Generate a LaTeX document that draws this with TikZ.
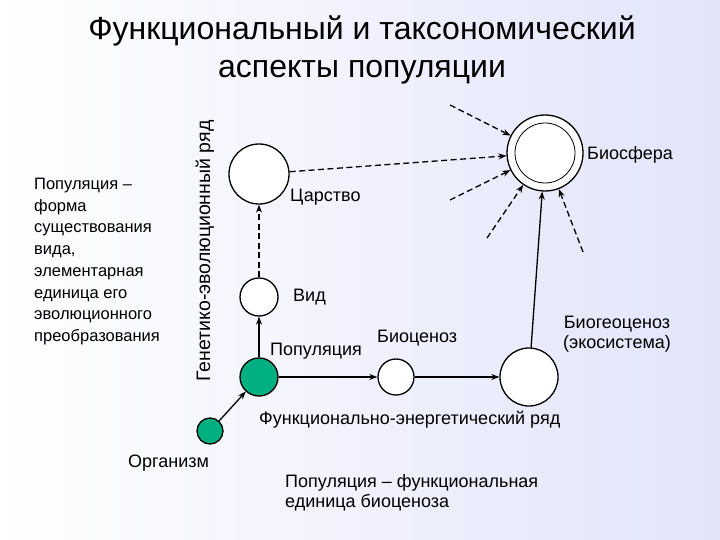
\documentclass[tikz,border=0pt]{standalone}
\usepackage{fontspec}
\setmainfont{Liberation Sans}
\usetikzlibrary{arrows.meta}
\definecolor{grn}{RGB}{0,176,128}
\definecolor{bgr}{RGB}{226,228,250}
\begin{document}
\begin{tikzpicture}[x=1pt,y=-1pt,
  circ/.style={circle,draw,line width=1.3pt,fill=white,inner sep=0pt},
  lab/.style={font=\fontsize{18}{20}\selectfont,inner sep=0pt},
  arr/.style={-{Stealth[length=8pt,width=6pt]},line width=1.3pt},
  darr/.style={arr,dash pattern=on 6pt off 3.5pt}]
\shade[left color=white,right color=bgr] (0,0) rectangle (720,540);
\useasboundingbox (0,0) rectangle (720,540);
\node[font=\fontsize{32}{38}\selectfont,align=center] (title) at (362,50) {Функциональный и таксономический\\аспекты популяции};
\node[lab,anchor=north west,align=left,font=\fontsize{16.5}{21.7}\selectfont] (left) at (34,178) {Популяция –\\форма\\существования\\вида,\\элементарная\\единица его\\эволюционного\\преобразования};
\node[lab,rotate=90,font=\fontsize{19.5}{22}\selectfont] (gen) at (205,251) {Генетико-эволюционный ряд};
\node[circ,minimum size=60pt] (car) at (259,174) {};
\node[circ,minimum size=38pt] (vid) at (259,297) {};
\node[circ,minimum size=38pt,fill=grn] (pop) at (259,377) {};
\node[circ,minimum size=26pt,fill=grn] (org) at (210,431) {};
\node[circ,minimum size=36pt] (bc) at (396,377) {};
\node[circ,minimum size=58pt] (bgc) at (529,377) {};
\node[circ,minimum size=76pt] (bs) at (545,153) {};
\node[circle,draw,line width=0.8pt,minimum size=60pt] (bsi) at (545,153) {};
\coordinate (d1) at (450,105);
\coordinate (d2) at (450,200);
\coordinate (d3) at (487,238);
\coordinate (d4) at (583,252);
\draw[arr] (org) -- (pop);
\draw[arr] (pop) -- (vid);
\draw[darr] (vid) -- (car);
\draw[arr] (pop) -- (bc);
\draw[arr] (bc) -- (bgc);
\draw[arr] (bgc) -- (bs);
\draw[darr] (car) -- (bs);
\draw[darr] (d1) -- (bs);
\draw[darr] (d2) -- (bs);
\draw[darr] (d3) -- (bs);
\draw[darr] (d4) -- (bs);
\node[lab,anchor=west] (lbs) at (587,155) {Биосфера};
\node[lab,anchor=west] (lcar) at (290,197) {Царство};
\node[lab,anchor=west] (lvid) at (293,297) {Вид};
\node[lab,anchor=west] (lpop) at (270,351) {Популяция};
\node[lab,anchor=west] (lbc) at (377,338) {Биоценоз};
\node[lab,align=center] (lbgc) at (617,334) {Биогеоценоз\\(экосистема)};
\node[lab,anchor=west] (lfe) at (259,420) {Функционально-энергетический ряд};
\node[lab,anchor=west] (lorg) at (128,463) {Организм};
\node[lab,anchor=north west,align=left] (lpf) at (285,474) {Популяция – функциональная\\единица биоценоза};
\end{tikzpicture}
\end{document}
